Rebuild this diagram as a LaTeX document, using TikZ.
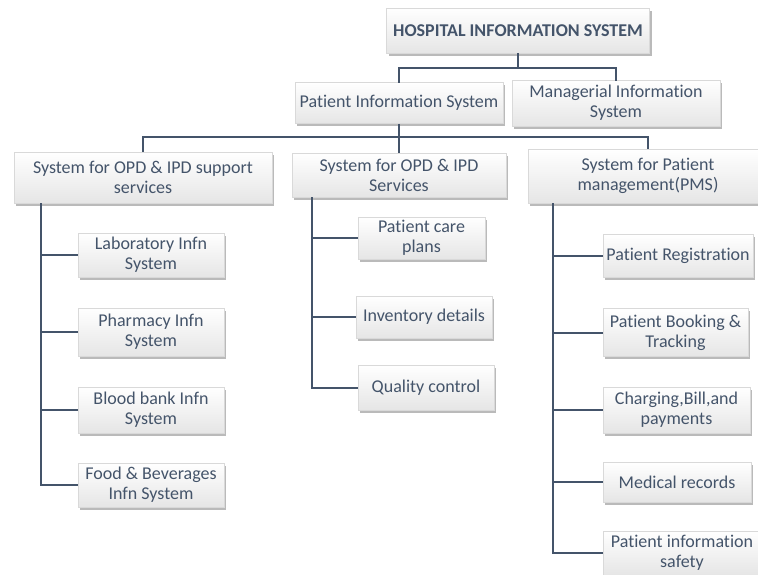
\documentclass[tikz,border=0pt]{standalone}
\usepackage{fontspec}
\setmainfont{Carlito}[Ligatures={NoCommon}]
\usetikzlibrary{shadows,calc}
\definecolor{txt}{HTML}{44546A}
\definecolor{ln}{HTML}{44546A}
\definecolor{bord}{HTML}{D9D9D9}
\tikzset{
  box/.style={draw=bord, line width=0.6pt, top color=white, bottom color=black!10,
    drop shadow={shadow xshift=2pt, shadow yshift=-2.5pt, fill=black!45, opacity=0.6},
    text=txt, align=center, inner sep=0pt, font=\fontsize{18}{20}\selectfont},
  conn/.style={draw=ln, line width=2pt},
}
\begin{document}
\begin{tikzpicture}[x=1pt,y=-1pt]
\clip (0,0) rectangle (758,574);
\fill[white] (0,0) rectangle (758,574);
% nodes: center positions and sizes in px
\node[box, minimum width=263pt, minimum height=45pt, font=\fontsize{18}{20}\selectfont\bfseries] (his) at (518,30.5) {HOSPITAL INFORMATION SYSTEM};
\node[box, minimum width=208pt, minimum height=41pt] (pis) at (399,103) {Patient Information System};
\node[box, minimum width=208pt, minimum height=46pt] (mis) at (616,103) {Managerial Information\\System};
\node[box, minimum width=258pt, minimum height=51pt] (sup) at (143,177.5) {System for OPD \& IPD support\\services};
\node[box, minimum width=214pt, minimum height=44pt] (svc) at (399,175) {System for OPD \& IPD\\Services};
\node[box, minimum width=240pt, minimum height=54pt] (pms) at (648,176) {System for Patient\\management(PMS)};
% left column
\node[box, minimum width=146pt, minimum height=44pt] (lab) at (151,255) {Laboratory Infn\\System};
\node[box, minimum width=146pt, minimum height=48pt] (pha) at (151,332) {Pharmacy Infn\\System};
\node[box, minimum width=146pt, minimum height=46pt] (blo) at (151,410) {Blood bank Infn\\System};
\node[box, minimum width=146pt, minimum height=44pt] (foo) at (151,485) {Food \& Beverages\\Infn System};
% middle column
\node[box, minimum width=127pt, minimum height=42pt] (care) at (421.5,238) {Patient care\\plans};
\node[box, minimum width=136pt, minimum height=42pt] (inv) at (424,317) {Inventory details};
\node[box, minimum width=136pt, minimum height=45pt] (qual) at (426,387.5) {Quality control};
% right column
\node[box, minimum width=150pt, minimum height=43pt] (reg) at (678,256) {Patient Registration};
\node[box, minimum width=145pt, minimum height=48pt] (book) at (675.5,332.5) {Patient Booking \&\\Tracking};
\node[box, minimum width=147pt, minimum height=46pt] (chg) at (676.5,410) {Charging,Bill,and\\payments};
\node[box, minimum width=148pt, minimum height=40pt] (med) at (677,482) {Medical records};
\node[box, minimum width=158pt, minimum height=44pt] (saf) at (682,553) {Patient information\\safety};
% connectors
\coordinate (j1) at (518,68);
\coordinate (j2) at (399,137);
\coordinate (tl) at (41,0);
\coordinate (tm) at (312,0);
\coordinate (tr) at (553,0);
\draw[conn] (his.south) -- (j1);
\draw[conn, line cap=rect] (j1) -| (pis.north);
\draw[conn, line cap=rect] (j1) -| (mis.north);
\draw[conn] (pis.south) -- (j2);
\draw[conn] (j2) -| (sup.north);
\draw[conn] (j2) -- (svc.north);
\draw[conn] (j2) -| (pms.north);
\draw[conn] (tl |- sup.south) |- (foo.west);
\draw[conn] (tl |- lab.west) -- (lab.west);
\draw[conn] (tl |- pha.west) -- (pha.west);
\draw[conn] (tl |- blo.west) -- (blo.west);
\draw[conn] (tm |- svc.south) |- (qual.west);
\draw[conn] (tm |- care.west) -- (care.west);
\draw[conn] (tm |- inv.west) -- (inv.west);
\draw[conn] (tr |- pms.south) |- (saf.west);
\draw[conn] (tr |- reg.west) -- (reg.west);
\draw[conn] (tr |- book.west) -- (book.west);
\draw[conn] (tr |- chg.west) -- (chg.west);
\draw[conn] (tr |- med.west) -- (med.west);
\end{tikzpicture}
\end{document}
